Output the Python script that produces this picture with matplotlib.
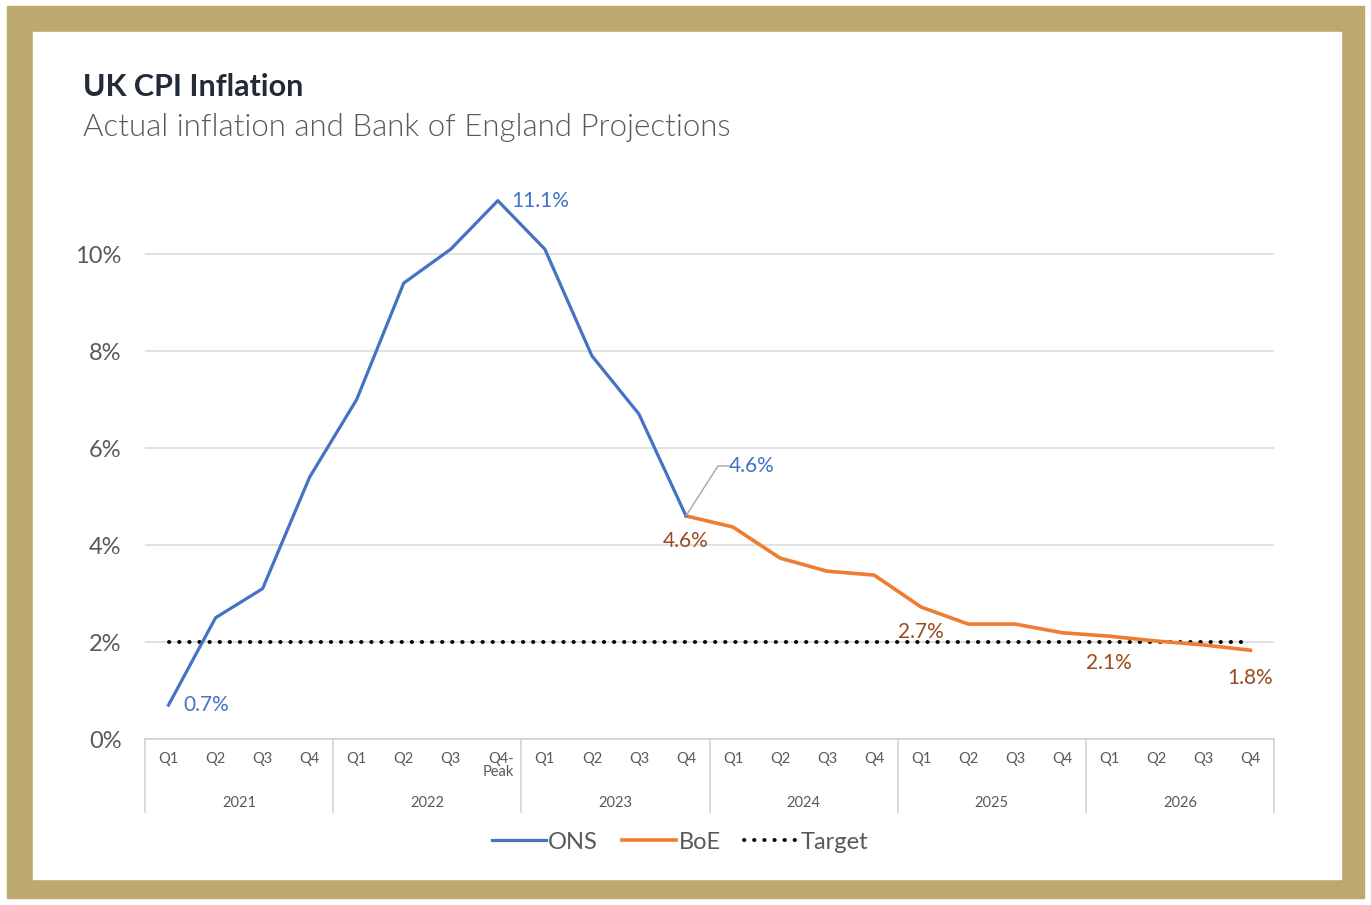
import matplotlib.pyplot as plt
from matplotlib.patches import Rectangle
from matplotlib.transforms import blended_transform_factory

plt.rcParams['font.family'] = ['Lato', 'DejaVu Sans']

# data
quarters = ['Q1', 'Q2', 'Q3', 'Q4'] * 6
quarters[7] = 'Q4-\nPeak'
years = ['2021', '2022', '2023', '2024', '2025', '2026']
ons = [0.7, 2.5, 3.1, 5.4, 7.0, 9.4, 10.1, 11.1, 10.1, 7.9, 6.7, 4.6]
boe = [4.6, 4.37, 3.73, 3.46, 3.38, 2.72, 2.37, 2.37, 2.19, 2.12, 2.02, 1.94, 1.83]
target = [2.0] * 24

blue = '#4472C4'
orange = '#ED7D31'
brown = '#9A4A1C'
gold = '#BDA96E'
grey_txt = '#595959'

fig = plt.figure(figsize=(13.71, 9.05), dpi=100)
fig.patches.append(Rectangle((7/1371, 1-898/905), 1357/1371, 892/905,
                             transform=fig.transFigure, color=gold, zorder=-2))
fig.patches.append(Rectangle((33/1371, 1-879/905), 1308/1371, 847/905,
                             transform=fig.transFigure, color='white', zorder=-1))

fig.text(83/1371, 1-87/905, 'UK CPI Inflation', fontsize=22, fontweight='bold',
         color='#222B38', va='center')
fig.text(83/1371, 1-127/905, 'Actual inflation and Bank of England Projections',
         fontsize=22.5, fontweight=300, color='#555A62', va='center')

ax = fig.add_axes([145/1371, 166/905, 1129/1371, 582/905])
x_ons = list(range(len(ons)))
x_boe = list(range(len(ons) - 1, len(ons) - 1 + len(boe)))
x_all = list(range(24))

ax.plot(x_all, target, color='black', lw=2.8, ls=(0, (0.1, 2.5)),
        dash_capstyle='round', zorder=2, label='Target')
ax.plot(x_boe, boe, color=orange, lw=2.6, zorder=3, label='BoE')
ax.plot(x_ons, ons, color=blue, lw=2.3, zorder=4, label='ONS')

ax.set_xlim(-0.5, 23.5)
ax.set_ylim(0, 12)
ax.set_yticks([0, 2, 4, 6, 8, 10])
ax.set_yticklabels(['0%', '2%', '4%', '6%', '8%', '10%'])
ax.tick_params(axis='y', length=0, pad=17, labelsize=17, labelcolor=grey_txt)
ax.set_xticks([])
for s in ['top', 'right', 'left']:
    ax.spines[s].set_visible(False)
ax.spines['bottom'].set_color('#D0D0D0')
ax.spines['bottom'].set_linewidth(1.2)
for yv in [2, 4, 6, 8, 10]:
    ax.axhline(yv, color='#D9D9D9', lw=1.1, zorder=1)

tr = blended_transform_factory(ax.transData, ax.transAxes)
for i, q in enumerate(quarters):
    ax.text(i, -0.022, q, transform=tr, ha='center', va='top', fontsize=10.5,
            color=grey_txt, linespacing=0.95,
            multialignment='right' if '\n' in q else 'center')
for j, yr in enumerate(years):
    ax.text(j * 4 + 1.5, -0.110, yr, transform=tr, ha='center', va='center',
            fontsize=10.5, color=grey_txt)
for k in range(7):
    ax.plot([k * 4 - 0.5] * 2, [0, -0.125], transform=tr, color='#D0D0D0',
            lw=1.1, clip_on=False)

# data labels
lab = dict(fontsize=15, va='center')
ax.annotate('0.7%', (0, ons[0]), xytext=(11, 0), textcoords='offset points',
            color=blue, ha='left', **lab)
ax.annotate('11.1%', (7, ons[7]), xytext=(10, 0), textcoords='offset points',
            color=blue, ha='left', **lab)
ax.annotate('4.6%', (11, ons[11]), xytext=(31, 36), textcoords='offset points',
            color=blue, ha='left', **lab)
ax.plot([11, 11.68, 11.9], [4.6, 5.63, 5.63], color='#A6A6A6', lw=1, zorder=5)
ax.annotate('4.6%', (11, boe[0]), xytext=(0, -18), textcoords='offset points',
            color=brown, ha='center', **lab)
ax.annotate('2.7%', (16, boe[5]), xytext=(0, -18), textcoords='offset points',
            color=brown, ha='center', **lab)
ax.annotate('2.1%', (20, boe[9]), xytext=(0, -19), textcoords='offset points',
            color=brown, ha='center', **lab)
ax.annotate('1.8%', (23, boe[12]), xytext=(0, -20), textcoords='offset points',
            color=brown, ha='center', **lab)

h, l = ax.get_legend_handles_labels()
order = [2, 1, 0]
fig.legend([h[i] for i in order], [l[i] for i in order], loc='center',
           bbox_to_anchor=(680/1371, 1-842/905), ncol=3, frameon=False,
           fontsize=17, labelcolor=grey_txt, handlelength=2.3,
           handletextpad=0.1, columnspacing=1.0)

fig.savefig('out.png', dpi=100)
